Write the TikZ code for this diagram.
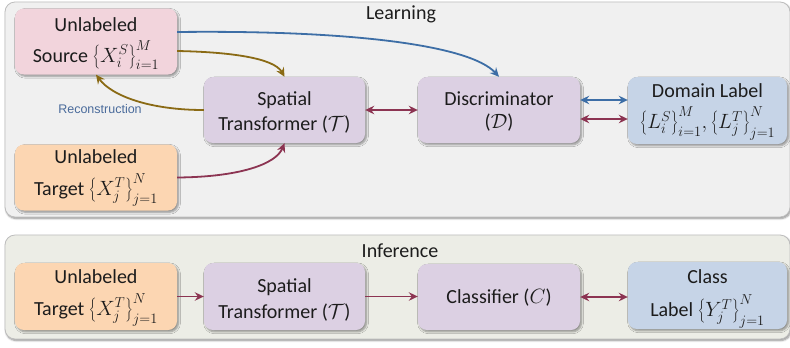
\documentclass[tikz,border=0pt]{standalone}
\usepackage{fontspec}
\setmainfont{Carlito}
\newfontfamily\smallsans{Liberation Sans}
\usetikzlibrary{arrows.meta,shadows.blur,calc}

\definecolor{panelLearn}{HTML}{F0F0F0}
\definecolor{panelInfer}{HTML}{ECEDE6}
\definecolor{panelEdge}{HTML}{BDBDBD}
\definecolor{fillSource}{HTML}{F2D4DC}
\definecolor{fillTarget}{HTML}{FCD6B2}
\definecolor{fillModule}{HTML}{DCD0E3}
\definecolor{fillLabel}{HTML}{C6D4E7}
\definecolor{arrBlue}{HTML}{3D6EA6}
\definecolor{arrRed}{HTML}{8C3452}
\definecolor{arrOlive}{HTML}{8A6A14}
\definecolor{txt}{HTML}{1C1C1C}
\definecolor{reconText}{HTML}{4A6B9B}

\tikzset{
  panel/.style={rounded corners=10bp, draw=panelEdge, line width=0.8bp,
    blur shadow={shadow blur steps=6, shadow xshift=1bp, shadow yshift=-1.5bp, shadow opacity=45}},
  box/.style={rounded corners=9bp, minimum width=162bp, minimum height=66bp,
    inner sep=0bp,
    blur shadow={shadow blur steps=5, shadow xshift=1.5bp, shadow yshift=-1.8bp, shadow opacity=40}},
  % anchor=base sits on the baseline of the last line
  boxtext/.style={anchor=base, inner sep=0bp, align=center, text=txt,
    font={\fontsize{20bp}{#1bp}\selectfont\lineskiplimit=-1000bp}},
  boxtext/.default=24,
  title/.style={text=txt, font=\fontsize{20bp}{24bp}\selectfont, anchor=base, inner sep=0bp},
  tip/.style={line width=1.8bp, arrows={-Stealth[length=9bp, width=8.5bp, inset=3bp]}},
  dtip/.style={line width=1.8bp, arrows={Stealth[length=9bp, width=8.5bp, inset=3bp]-Stealth[length=9bp, width=8.5bp, inset=3bp]}},
}

\begin{document}
\begin{tikzpicture}[x=1bp, y=-1bp]
\useasboundingbox (0,0) rectangle (790,347);

% panels
\path[panel, fill=panelLearn] (5,2) rectangle (790,217);
\path[panel, fill=panelInfer] (5,235) rectangle (790,339);
\node[title] (learn) at (401,19) {Learning};
\node[title] (infer) at (400,257) {Inference};

% learning stage: boxes
\node[box, fill=fillSource] (src) at (96,41.5) {};
\node[box, fill=fillTarget] (tgt) at (96,177.5) {};
\node[box, fill=fillModule, minimum width=161bp] (st) at (284.5,110) {};
\node[box, fill=fillModule] (disc) at (499,110) {};
\node[box, fill=fillLabel, minimum width=159bp, minimum height=67bp] (dom) at (707.5,110.5) {};

% learning stage: texts (placed at the last baseline)
\node[boxtext=31] (srcT) at (96,62) {Unlabeled\\Source $\left\{X_i^S\right\}_{i=1}^{M}$};
\node[boxtext=31.5] (tgtT) at (96,195) {Unlabeled\\Target $\left\{X_j^T\right\}_{j=1}^{N}$};
\node[boxtext=25] (stT) at (284.5,130) {Spatial\\Transformer ($\mathcal{T}$)};
\node[boxtext=23.5] (discT) at (499,128.5) {Discriminator\\($\mathcal{D}$)};
\node[boxtext=31.5] (domT) at (707.5,128.5)
  {Domain Label\\$\left\{L_i^S\right\}_{i=1}^{M}\!,\left\{L_j^T\right\}_{j=1}^{N}$};
\node[text=reconText, font=\smallsans\fontsize{12.5bp}{15bp}\selectfont, inner sep=0bp]
  (rec) at (100,109) {Reconstruction};

% learning stage: connectors
\draw[tip, arrBlue] ([yshift=9.5bp]src.east)
  .. controls (350,30) and (470,45) .. (disc.north);
\draw[tip, arrOlive] ([yshift=-9.5bp]src.east)
  .. controls (230,52) and (274,58) .. (st.north);
\draw[tip, arrOlive] (st.west)
  .. controls (150,110) and (112,96) .. (src.south);
\draw[tip, arrRed] (tgt.east)
  .. controls (240,177) and (276,164) .. (st.south);
\draw[dtip, arrRed] (st.east) -- (disc.west);
\draw[dtip, arrBlue] ([yshift=10bp]disc.east) -- ([yshift=10bp]disc.east -| dom.west);
\draw[dtip, arrRed] ([yshift=-9bp]disc.east) -- ([yshift=-9bp]disc.east -| dom.west);

% inference stage: boxes
\node[box, fill=fillTarget, minimum height=67bp] (itgt) at (96,296.5) {};
\node[box, fill=fillModule, minimum width=161bp, minimum height=67bp] (ist) at (284.5,296.5) {};
\node[box, fill=fillModule] (cls) at (499,297) {};
\node[box, fill=fillLabel, minimum width=159bp, minimum height=67bp] (clab) at (707.5,295.5) {};

% inference stage: texts
\node[boxtext=32] (itgtT) at (96,315) {Unlabeled\\Target $\left\{X_j^T\right\}_{j=1}^{N}$};
\node[boxtext=25.5] (istT) at (284.5,318) {Spatial\\Transformer ($\mathcal{T}$)};
\node[boxtext] (clsT) at (499,303.5) {Classifier ($C$)};
\node[boxtext=33] (clabT) at (707.5,316.5) {Class\\Label $\left\{Y_j^T\right\}_{j=1}^{N}$};

% inference stage: connectors
\draw[tip, arrRed] (itgt.east) -- (itgt.east -| ist.west);
\draw[tip, arrRed] (ist.east) -- (ist.east -| cls.west);
\draw[dtip, arrRed] (cls.east) -- (cls.east -| clab.west);
\end{tikzpicture}
\end{document}
